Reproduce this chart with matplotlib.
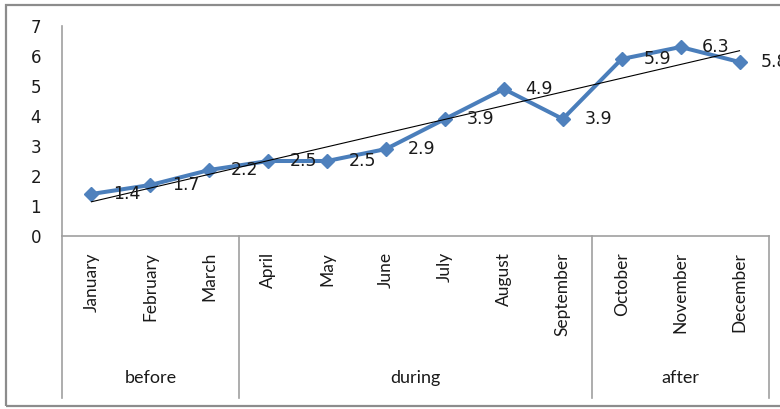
import matplotlib
matplotlib.use("Agg")
import matplotlib.pyplot as plt
import numpy as np
from matplotlib.lines import Line2D
from matplotlib.patches import Rectangle
import matplotlib.transforms as mtransforms

months = ["January", "February", "March", "April", "May", "June", "July",
          "August", "September", "October", "November", "December"]
values = [1.4, 1.7, 2.2, 2.5, 2.5, 2.9, 3.9, 4.9, 3.9, 5.9, 6.3, 5.8]
groups = ["before", "during", "after"]
group_sizes = [3, 6, 3]
yticks = [0, 1, 2, 3, 4, 5, 6, 7]

W, H = 780, 409
fig = plt.figure(figsize=(W / 100, H / 100), dpi=100)
fig.patch.set_facecolor("white")

# chart border
fig.patches.append(Rectangle((6 / W, 3 / H), 1.0, (406 - 5) / H,
                             transform=fig.transFigure, fill=False,
                             edgecolor="#8C8C8C", linewidth=1.6))

left, right, top, bottom = 62, 769, 26, 236
ax = fig.add_axes([left / W, 1 - bottom / H, (right - left) / W, (bottom - top) / H])

x = np.arange(len(months))
blue = "#4A7EBB"
ax.plot(x, values, color=blue, lw=2.9, marker="D", markersize=7,
        markerfacecolor="#4F81BD", markeredgecolor="#4F81BD", zorder=3)

# linear trend line
coef = np.polyfit(x, values, 1)
ax.plot([x[0], x[-1]], np.polyval(coef, [x[0], x[-1]]), color="black", lw=0.8, zorder=4)

for xi, v in zip(x, values):
    ax.annotate(f"{v:.1f}", (xi, v), xytext=(15.5, 0), textcoords="offset points",
                ha="left", va="center", fontsize=12.5, family="DejaVu Sans",
                color="#1a1a1a", zorder=5, annotation_clip=False)

ax.set_xlim(-0.5, len(months) - 0.5)
ax.set_ylim(0, 7)
ax.set_yticks(yticks)
ax.set_yticklabels([str(t) for t in yticks], fontsize=12, family="DejaVu Sans")
ax.tick_params(axis="y", length=0, pad=15, colors="#1a1a1a")
ax.set_xticks([])

for s in ["top", "right"]:
    ax.spines[s].set_visible(False)
ax.spines["left"].set_color("#A0A0A0")
ax.spines["bottom"].set_color("#A0A0A0")
ax.spines["left"].set_linewidth(1.2)
ax.spines["bottom"].set_linewidth(1.2)

trans = mtransforms.blended_transform_factory(ax.transData, ax.transAxes)
ax_h = bottom - top
# month labels
for xi, m in zip(x, months):
    ax.text(xi, -16 / ax_h, m, rotation=90, ha="center", va="top",
            fontsize=12.5, family="Lato", color="#1a1a1a", transform=trans)

# group dividers and labels
bounds = np.concatenate([[0], np.cumsum(group_sizes)]) - 0.5
line_bottom = -(398 - bottom) / ax_h
for b in bounds:
    ax.add_line(Line2D([b, b], [0, line_bottom], transform=trans, color="#A0A0A0",
                       lw=1.2, clip_on=False))
for g, a, b in zip(groups, bounds[:-1], bounds[1:]):
    ax.text((a + b) / 2, -(378 - bottom) / ax_h, g, ha="center", va="center",
            fontsize=13, family="Lato", color="#1a1a1a", transform=trans)

fig.savefig("out.png", dpi=100)
